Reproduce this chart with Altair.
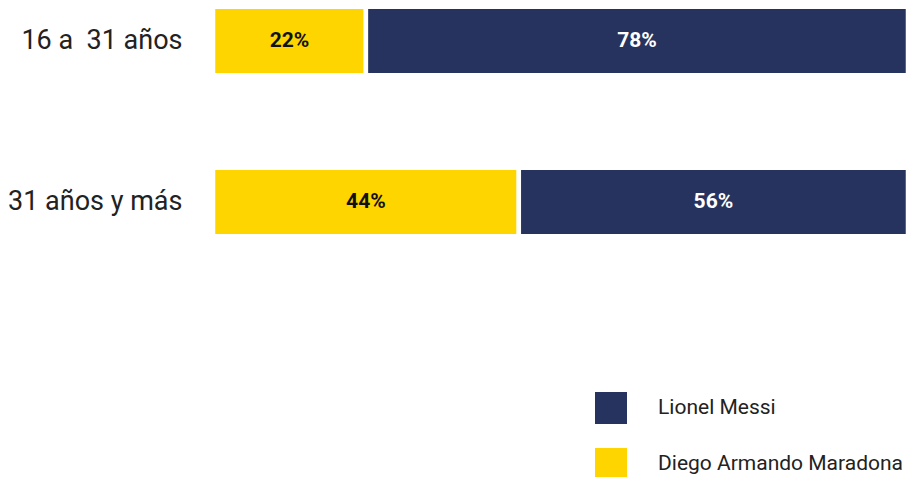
import altair as alt
import pandas as pd

groups = ["16 a\u00a0 31 años", "31 años y más"]
players = ["Diego Armando Maradona", "Lionel Messi"]
maradona = [22, 44]
messi = [78, 56]
legend_order = ["Lionel Messi", "Diego Armando Maradona"]
legend_colors = ["#26335F", "#FFD500"]
text_colors = ["#111111", "#FFFFFF"]

rows = []
for i, g in enumerate(groups):
    for j, (p, vals) in enumerate(zip(players, [maradona, messi])):
        rows.append({"group": g, "player": p, "value": vals[i], "ord": j,
                     "tcolor": text_colors[j]})
df = pd.DataFrame(rows)

base = alt.Chart(df).transform_stack(
    stack="value", groupby=["group"], as_=["x0", "x1"],
    sort=[alt.SortField("ord", order="ascending")]
).transform_calculate(
    mid="(datum.x0 + datum.x1) / 2",
    label="datum.value + '%'"
)

yscale = alt.Scale(range=[-1.25, 228.25], paddingInner=0.5745, paddingOuter=0, round=False)
yenc = alt.Y("group:N", sort=groups, scale=yscale,
             axis=alt.Axis(title=None, domain=False, ticks=False, labelPadding=31,
                           labelFont="Roboto", labelFontSize=27, labelColor="#222222",
                           labelLimit=300))
xscale = alt.Scale(domain=[0, 100], nice=False, zero=True)

bars = base.mark_bar(stroke="white", strokeWidth=4.5).encode(
    x=alt.X("x0:Q", scale=xscale, axis=None),
    x2="x1:Q",
    y=yenc,
    color=alt.Color("player:N",
                    scale=alt.Scale(domain=legend_order, range=legend_colors),
                    legend=alt.Legend(title=None, orient="none", legendX=382, legendY=384,
                                      symbolType="square", symbolSize=1024,
                                      symbolStrokeWidth=0, symbolOpacity=1,
                                      labelFont="Roboto", labelFontSize=21,
                                      labelColor="#222222", labelOffset=31,
                                      rowPadding=24, padding=0, labelLimit=400)),
)

texts = base.mark_text(font="Roboto", fontSize=21, fontWeight="bold").encode(
    x=alt.X("mid:Q", scale=xscale, axis=None),
    y=alt.Y("group:N", sort=groups),
    text="label:N",
    fill=alt.Fill("tcolor:N", scale=None),
)

chart = alt.layer(bars, texts).properties(
    width=695, height=230,
    padding={"left": 205, "top": 0, "right": 0, "bottom": 239},
    autosize=alt.AutoSizeParams(type="none"),
).configure_view(stroke=None)

chart.save("out.html", embed_options={"renderer": "svg", "actions": False})
